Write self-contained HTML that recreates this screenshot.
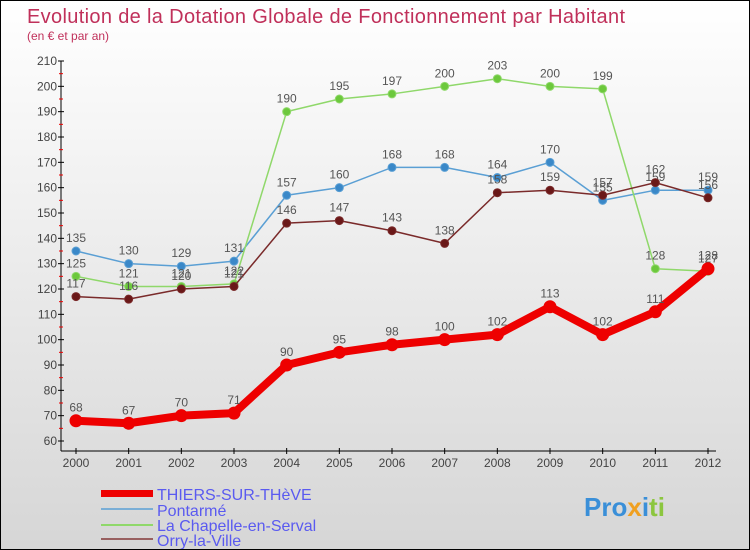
<!DOCTYPE html>
<html><head><meta charset="utf-8"><style>
body{margin:0}
#c{width:750px;height:550px;position:relative;overflow:hidden;box-sizing:border-box;border:1px solid #000;background:linear-gradient(#fff,#d6d6d6);font-family:"Liberation Sans",sans-serif}
</style></head><body>
<div id="c">
<svg id="s" width="750" height="550" style="position:absolute;left:0;top:0" font-family="Liberation Sans, sans-serif">
<text x="26" y="22" font-size="20" textLength="598" fill="#c0305a">Evolution de la Dotation Globale de Fonctionnement par Habitant</text>
<text x="26" y="39" font-size="12" fill="#c0305a">(en € et par an)</text>
<g id="ax"></g><g id="ser"></g>
<g font-size="16" fill="#5a5af0">
<rect x="100" y="489" width="52" height="7" fill="#e00"/>
<text x="156" y="499">THIERS-SUR-THèVE</text>
<rect x="100" y="507" width="52" height="2" fill="#7aaed6"/>
<text x="156" y="515">Pontarmé</text>
<rect x="100" y="523" width="52" height="2" fill="#8fd86a"/>
<text x="156" y="530">La Chapelle-en-Serval</text>
<rect x="100" y="537" width="52" height="2" fill="#986060"/>
<text x="156" y="545">Orry-la-Ville</text>
</g>
<text x="583" y="515" font-size="26" font-weight="bold"><tspan fill="#3a8fd8">Pro</tspan><tspan fill="#f0a020">x</tspan><tspan fill="#3a8fd8">i</tspan><tspan fill="#8cc63f">ti</tspan></text>
</svg></div>
<script>
const years=[2000,2001,2002,2003,2004,2005,2006,2007,2008,2009,2010,2011,2012];
const yTicks=[60,70,80,90,100,110,120,130,140,150,160,170,180,190,200,210];
const thiers=[68,67,70,71,90,95,98,100,102,113,102,111,128];
const pontarme=[135,130,129,131,157,160,168,168,164,170,155,159,159];
const chapelle=[125,121,121,122,190,195,197,200,203,200,199,128,127];
const orry=[117,116,120,121,146,147,143,138,158,159,157,162,156];
const NS="http://www.w3.org/2000/svg";
const X=y=>75+(y-2000)*(707-75)/12;
const Y=v=>440-(v-60)*(440-60)/150;
function mk(t,a,p){const e=document.createElementNS(NS,t);for(const k in a)e.setAttribute(k,a[k]);p.appendChild(e);return e;}
const ax=document.getElementById('ax');
let l=mk('line',{x1:60,y1:60,x2:60,y2:450,stroke:'#000'},ax);


l=mk('line',{x1:60,y1:450,x2:715,y2:450,stroke:'#000'},ax);


yTicks.forEach(v=>{
 mk('line',{x1:57,x2:63,y1:Y(v),y2:Y(v),stroke:'#000'},ax);
 if(v<210)mk('line',{x1:58,x2:62,y1:Y(v+5),y2:Y(v+5),stroke:'#e00'},ax);
 const t=mk('text',{x:56,y:Y(v)+4,'text-anchor':'end','font-size':12,fill:'#444'},ax);t.textContent=v;
 
 
});
years.forEach(y=>{
 mk('line',{x1:X(y),x2:X(y),y1:447,y2:453,stroke:'#000'},ax);
 const t=mk('text',{x:X(y),y:466,'text-anchor':'middle','font-size':12,fill:'#444'},ax);t.textContent=y;
 
 
});
const ser=document.getElementById('ser');
function draw(vals,col,dot,w,r,name){
 const g=mk('g',{},ser);
 
 
 mk('polyline',{points:vals.map((v,i)=>X(years[i])+','+Y(v)).join(' '),fill:'none',stroke:col,'stroke-width':w,'stroke-linejoin':'round'},g);
 vals.forEach((v,i)=>{
  const c=mk('circle',{cx:X(years[i]),cy:Y(v),r:r,fill:dot,stroke:col,'stroke-width':1},g);
  
  
  const t=mk('text',{x:X(years[i]),y:Y(v)-9,'text-anchor':'middle','font-size':12,fill:'#555'},g);t.textContent=v;
 });
}
draw(pontarme,'#5a9fd4','#3a88c8',1.5,4,'pontarme');
draw(chapelle,'#8fd86a','#6cc83c',1.5,4,'chapelle');
draw(orry,'#7a2a2a','#6a1818',1.5,4,'orry');
draw(thiers,'#ee0000','#ee0000',8,6,'thiers');
</script>
</body></html>
